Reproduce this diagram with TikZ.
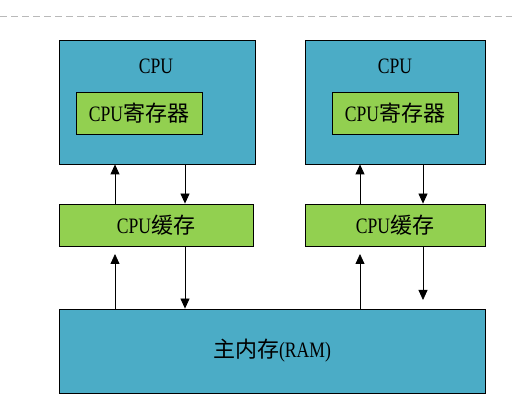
\documentclass[tikz,border=0pt]{standalone}
\usepackage{fontspec}
\setmainfont[FakeStretch=0.8]{Liberation Serif}
\newfontfamily\cjk{Noto Sans CJK SC}
\usetikzlibrary{arrows.meta}
\definecolor{cpublue}{HTML}{4BACC6}
\definecolor{cachegreen}{HTML}{92D050}

\begin{document}
\begin{tikzpicture}[x=1pt,y=-1pt,
        box/.style={draw,line width=0.8pt,inner sep=0pt},
        txt/.style={font=\fontsize{22}{25}\selectfont},
        link/.style={line width=0.8pt,-{Triangle[length=10pt,width=9pt]}}]
        \useasboundingbox (0,0) rectangle (512,414);
        \draw[gray!55,line width=1pt,dash pattern=on 7pt off 4pt] (0,17) -- (512,17);

        \node[box,fill=cpublue,minimum width=196pt,minimum height=124pt] (cpu1) at (157,102) {};
        \node[box,fill=cpublue,minimum width=180pt,minimum height=124pt] (cpu2) at (395,102) {};
        \node[txt] (cpuname1) at (156,66) {CPU};
        \node[txt] (cpuname2) at (395,66) {CPU};
        \node[box,txt,fill=cachegreen,minimum width=126pt,minimum height=42pt] (reg1) at (139,113) {CPU{\cjk 寄存器}};
        \node[box,txt,fill=cachegreen,minimum width=126pt,minimum height=42pt] (reg2) at (395,113) {CPU{\cjk 寄存器}};
        \node[box,txt,fill=cachegreen,minimum width=194pt,minimum height=42pt] (cache1) at (156,225) {CPU{\cjk 缓存}};
        \node[box,txt,fill=cachegreen,minimum width=180pt,minimum height=42pt] (cache2) at (395,225) {CPU{\cjk 缓存}};
        \node[box,txt,fill=cpublue,minimum width=426pt,minimum height=84pt] (ram) at (272,351) {{\cjk 主内存}(RAM)};

        \coordinate (u1) at (115,0);
        \coordinate (d1) at (185,0);
        \coordinate (u2) at (360,0);
        \coordinate (d2) at (423,0);
        \coordinate (end1) at (115,254);
        \coordinate (end2) at (360,254);
        \coordinate (end3) at (423,300);

        \foreach \from / \to / \x in {cache1/cpu1/u1,cache2/cpu2/u2}
            \draw[link] (\from.north -| \x) -- (\to.south -| \x);

        \foreach \from / \to / \x in {cpu1/cache1/d1,cpu2/cache2/d2,cache1/ram/d1}
            \draw[link] (\from.south -| \x) -- (\to.north -| \x);

        \draw[link] (ram.north -| u1) -- (end1);
        \draw[link] (ram.north -| u2) -- (end2);
        \draw[link] (cache2.south -| d2) -- (end3);
    \end{tikzpicture}
\end{document}
